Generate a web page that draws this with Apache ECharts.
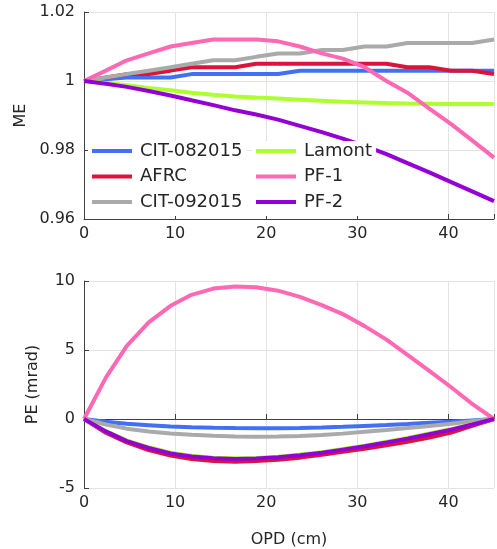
<!DOCTYPE html>
<html>
<head>
<meta charset="utf-8">
<script src="https://cdn.jsdelivr.net/npm/echarts@6/dist/echarts.min.js"></script>
<style>
  html, body { margin: 0; padding: 0; background: #fff; }
  #chart { width: 497px; height: 549px; }
</style>
</head>
<body>
<div id="chart"></div>
<script>
// OPD sample positions (cm)
const opd = [0, 2.4, 4.7, 7.1, 9.5, 11.8, 14.2, 16.6, 18.9, 21.3, 23.7, 26.1, 28.4, 30.8, 33.2, 35.5, 37.9, 40.3, 42.6, 45];

const names = ["CIT-082015", "AFRC", "CIT-092015", "Lamont", "PF-1", "PF-2"];
const colors = ["#4270f5", "#dc143c", "#aaaaaa", "#adff2f", "#ff69b4", "#9400d3"];

// modulation efficiency
const meCit08 = [1, 1.0005, 1.001, 1.001, 1.001, 1.002, 1.002, 1.002, 1.002, 1.002, 1.003, 1.003, 1.003, 1.003, 1.003, 1.003, 1.003, 1.003, 1.003, 1.003];
const meAfrc = [1, 1.001, 1.002, 1.002, 1.003, 1.004, 1.004, 1.004, 1.005, 1.005, 1.005, 1.005, 1.005, 1.005, 1.005, 1.004, 1.004, 1.003, 1.003, 1.002];
const meCit09 = [1, 1.001, 1.002, 1.003, 1.004, 1.005, 1.006, 1.006, 1.007, 1.008, 1.008, 1.009, 1.009, 1.010, 1.010, 1.011, 1.011, 1.011, 1.011, 1.012];
const meLamont = [1, 0.9994, 0.9988, 0.998, 0.9973, 0.9966, 0.996, 0.9955, 0.9952, 0.9949, 0.9946, 0.9943, 0.994, 0.9938, 0.9936, 0.9935, 0.9934, 0.9933, 0.9933, 0.9933];
const mePf1 = [1, 1.003, 1.006, 1.008, 1.010, 1.011, 1.012, 1.012, 1.012, 1.0115, 1.010, 1.008, 1.0065, 1.004, 1.000, 0.9966, 0.992, 0.9875, 0.9828, 0.9778];
const mePf2 = [1, 0.9992, 0.9983, 0.9971, 0.9958, 0.9944, 0.993, 0.9915, 0.9903, 0.9888, 0.987, 0.9852, 0.9833, 0.9812, 0.9788, 0.9762, 0.9735, 0.9707, 0.968, 0.9652];

// phase error (mrad)
const peCit08 = [0, -0.2, -0.35, -0.45, -0.55, -0.6, -0.64, -0.66, -0.67, -0.67, -0.65, -0.62, -0.57, -0.5, -0.43, -0.36, -0.28, -0.2, -0.1, 0];
const peAfrc = [0, -1.0, -1.7, -2.25, -2.65, -2.9, -3.05, -3.1, -3.05, -2.95, -2.8, -2.6, -2.38, -2.15, -1.9, -1.65, -1.35, -0.98, -0.5, 0];
const peCit09 = [0, -0.4, -0.7, -0.9, -1.05, -1.15, -1.22, -1.26, -1.28, -1.27, -1.23, -1.16, -1.06, -0.93, -0.8, -0.66, -0.5, -0.34, -0.17, 0];
const peLamont = [0, -0.88, -1.55, -2.05, -2.45, -2.67, -2.8, -2.85, -2.82, -2.73, -2.58, -2.4, -2.17, -1.93, -1.65, -1.37, -1.05, -0.73, -0.37, 0];
const pePf1 = [0, 3.0, 5.3, 7.0, 8.2, 9.0, 9.45, 9.6, 9.55, 9.3, 8.85, 8.25, 7.6, 6.73, 5.75, 4.65, 3.48, 2.3, 1.1, 0];
const pePf2 = [0, -0.9, -1.6, -2.1, -2.5, -2.72, -2.85, -2.9, -2.87, -2.78, -2.63, -2.45, -2.22, -1.98, -1.7, -1.42, -1.1, -0.78, -0.4, 0];

const meData = [meCit08, meAfrc, meCit09, meLamont, mePf1, mePf2];
const peData = [peCit08, peAfrc, peCit09, peLamont, pePf1, pePf2];

const font = "DejaVu Sans";
const textColor = "#262626";
const axisColor = "#404040";

const pair = (ys) => opd.map((x, i) => [x, ys[i]]);

const xAxisBase = (gridIndex) => ({
  type: "value",
  gridIndex: gridIndex,
  min: 0,
  max: 45,
  interval: 10,
  axisLine: { show: true, lineStyle: { color: axisColor, width: 1 } },
  axisTick: { show: true, inside: true, length: 5, lineStyle: { color: axisColor } },
  axisLabel: {
    color: textColor, fontSize: 16, fontFamily: font, margin: 7,
    formatter: (v) => (v % 10 === 0 ? String(v) : ""),
  },
  splitLine: { show: true, lineStyle: { color: "#e3e3e3", width: 1 } },
});

const yAxisBase = (gridIndex) => ({
  type: "value",
  gridIndex: gridIndex,
  axisLine: { show: true, lineStyle: { color: axisColor, width: 1 } },
  axisTick: { show: true, inside: true, length: 5, lineStyle: { color: axisColor } },
  axisLabel: { color: textColor, fontSize: 16, fontFamily: font, margin: 9 },
  splitLine: { show: true, lineStyle: { color: "#e3e3e3", width: 1 } },
  nameLocation: "middle",
  nameTextStyle: { color: textColor, fontSize: 16, fontFamily: font },
});

const series = [];
names.forEach((n, i) => {
  series.push({
    name: n, type: "line", xAxisIndex: 0, yAxisIndex: 0,
    data: pair(meData[i]), showSymbol: false, symbol: "none",
    lineStyle: { color: colors[i], width: 4 }, itemStyle: { color: colors[i] },
    z: 2 + i,
  });
  series.push({
    name: n, type: "line", xAxisIndex: 1, yAxisIndex: 1,
    data: pair(peData[i]), showSymbol: false, symbol: "none",
    lineStyle: { color: colors[i], width: 4 }, itemStyle: { color: colors[i] },
    z: 2 + i,
  });
});

const legendBase = {
  orient: "vertical",
  icon: "rect",
  itemWidth: 40,
  itemHeight: 4,
  itemGap: 5.5,
  backgroundColor: "#fff",
  selectedMode: false,
  textStyle: { color: textColor, fontSize: 18, fontFamily: font, lineHeight: 20, padding: [0, 0, 0, 3] },
  z: 20,
};

const chart = echarts.init(document.getElementById("chart"));
chart.setOption({
  animation: false,
  backgroundColor: "#fff",
  grid: [
    { left: 84, top: 12, width: 413, height: 207 },
    { left: 84, top: 281, width: 413, height: 207 },
  ],
  xAxis: [
    xAxisBase(0),
    Object.assign(xAxisBase(1), {
      name: "OPD (cm)", nameLocation: "middle", nameGap: 44,
      nameTextStyle: { color: textColor, fontSize: 16, fontFamily: font },
    }),
  ],
  yAxis: [
    Object.assign(yAxisBase(0), { min: 0.96, max: 1.02, interval: 0.02, name: "ME", nameGap: 53 }),
    Object.assign(yAxisBase(1), { min: -5, max: 10, interval: 5, name: "PE (mrad)", nameGap: 43 }),
  ],
  legend: [
    Object.assign({}, legendBase, {
      data: names.slice(0, 3), left: 88, top: 141, padding: [0, 4, 4, 4],
    }),
    Object.assign({}, legendBase, {
      data: names.slice(3), left: 252, top: 141, padding: [0, 4, 4, 4],
    }),
  ],
  series: series,
});
</script>
</body>
</html>
